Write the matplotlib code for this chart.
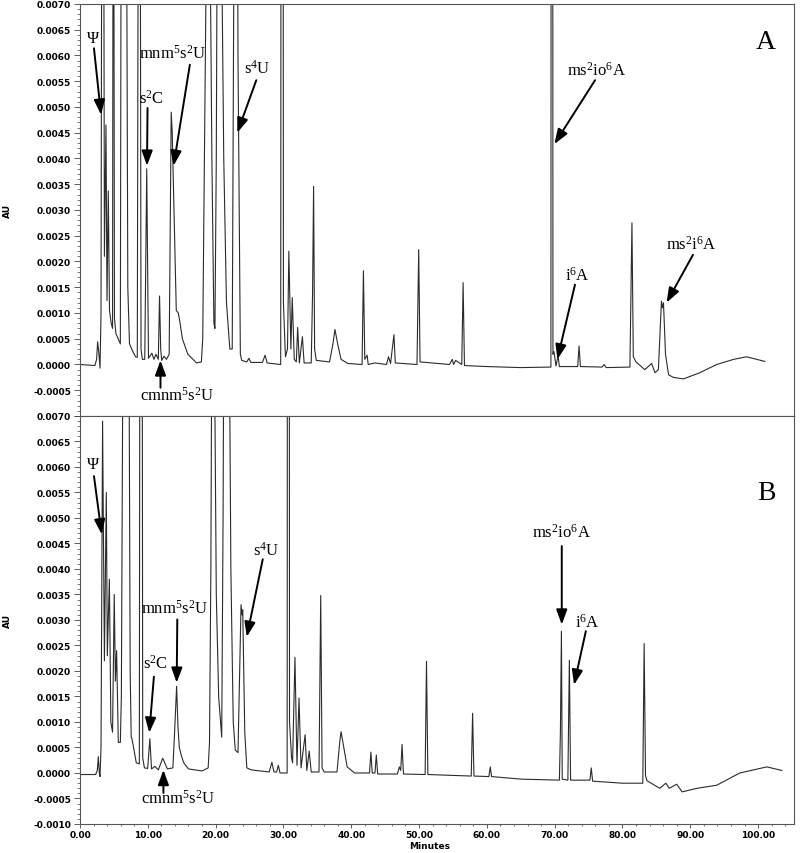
import matplotlib
matplotlib.use("Agg")
import numpy as np
import matplotlib.pyplot as plt
from matplotlib.ticker import MultipleLocator, FuncFormatter

# chromatogram traces: (minutes, AU)
trace_a = [
    (0.0, 0.0), (2.2, -0.00002), (2.45, 0.0001), (2.6, 0.00044), (2.8, 0.0002), (2.95, -0.00007),
    (3.1, 0.001), (3.35, 0.02), (3.6, 0.0021), (3.83, 0.00465), (3.98, 0.00124), (4.17, 0.00337),
    (4.35, 0.00105), (4.6, 0.0008), (4.8, 0.0007), (4.92, 0.015), (5.08, 0.0009), (5.3, 0.0006),
    (5.95, 0.0004), (6.35, 0.03), (7.05, 0.0015), (7.3, 0.0004), (7.8, 0.00025), (8.2, 0.00015),
    (8.45, 0.00014), (8.75, 0.02), (9.0, 0.0003), (9.2, 0.0001), (9.55, 0.0001), (9.84, 0.0038),
    (10.1, 0.00012), (10.6, 0.00022), (10.9, 0.0001), (11.2, 0.0002), (11.55, 0.0001), (11.73, 0.00133),
    (11.9, 0.0003), (12.05, 0.00008), (12.4, 0.00016), (12.75, 0.0001), (13.15, 0.0002), (13.45, 0.0049),
    (13.6, 0.0045), (14.2, 0.00105), (14.5, 0.001), (14.7, 0.00085), (15.1, 0.0005), (15.9, 0.0002),
    (17.2, 0.00003), (17.9, 0.00005), (18.1, 0.0005), (18.35, 0.004), (18.7, 0.009), (18.95, 0.012),
    (19.2, 0.008), (19.45, 0.004), (19.75, 0.0008), (19.9, 0.0007), (20.1, 0.004), (20.3, 0.011),
    (20.6, 0.013), (20.9, 0.008), (21.2, 0.004), (21.6, 0.0012), (22.1, 0.0003), (22.45, 0.0003),
    (22.7, 0.008), (23.0, 0.02), (23.3, 0.006), (23.65, 0.0002), (23.85, 0.00008), (24.6, 0.00005),
    (24.9, 0.00012), (25.2, 0.00004), (26.9, 0.00004), (27.3, 0.00018), (27.6, 0.00003), (29.6, 0.0),
    (29.8, 0.05), (30.0, 0.0012), (30.3, 0.00015), (30.6, 0.0003), (30.8, 0.0022), (31.1, 0.0003),
    (31.3, 0.0013), (31.6, 0.0001), (31.9, 0.00005), (32.1, 0.00072), (32.35, 0.00003), (32.8, 0.00054),
    (33.05, 0.00003), (34.1, 0.00003), (34.3, 0.0014), (34.45, 0.00346), (34.6, 0.0003), (34.85, 0.00008),
    (36.8, 0.00005), (37.3, 0.0004), (37.6, 0.00068), (38.0, 0.0004), (38.5, 0.0001), (39.5, 0.00002),
    (41.6, 0.0), (41.8, 0.00182), (42.0, 0.0001), (42.35, 0.00018), (42.5, 0.0), (43.5, 0.00003),
    (45.2, 0.0), (45.5, 0.00015), (45.8, 0.00002), (46.3, 0.00058), (46.5, 0.00003),
    (49.7, 0.0), (49.95, 0.00223), (50.15, 0.00005),
    (54.5, 0.0), (54.9, 0.0001), (55.1, 0.0), (55.4, 0.00008), (56.3, 0.0), (56.5, 0.00159), (56.7, -0.00002),
    (60.0, -0.00004), (65.0, -0.00006), (69.45, -0.00005), (69.6, 0.05), (69.75, 0.0002), (69.9, 0.00025),
    (70.2, -0.00003), (70.5, 0.00017), (70.7, -0.00004), (73.4, -0.00004), (73.6, 0.00036), (73.8, -0.00004),
    (77.0, -0.00005), (77.3, 0.0), (77.6, -0.00006), (81.1, -0.00005), (81.4, 0.00275), (81.6, 0.00015),
    (82.0, 0.00005), (83.3, -0.0001), (84.3, 0.00002), (84.8, -0.00016), (85.3, -0.0001), (85.75, 0.00123),
    (85.9, 0.0011), (86.05, 0.0012), (86.35, 0.0002), (86.8, -0.0002), (87.5, -0.00025), (89.0, -0.00028),
    (91.4, -0.00016), (93.9, 0.0), (96.4, 0.0001), (98.3, 0.00015), (101.0, 0.00006),
]

trace_b = [
    (0.0, -0.00003), (2.3, -0.00003), (2.55, 0.00005), (2.7, 0.00032), (2.85, 0.0), (2.95, -0.00007),
    (3.1, 0.0005), (3.33, 0.0069), (3.6, 0.0022), (3.88, 0.0055), (4.03, 0.0023), (4.33, 0.0038),
    (4.55, 0.001), (4.8, 0.0008), (5.05, 0.0035), (5.22, 0.0018), (5.4, 0.0024), (5.65, 0.0006),
    (5.95, 0.0006), (6.1, 0.0015), (6.35, 0.009), (6.8, 0.015), (7.25, 0.0075), (7.4, 0.002),
    (7.55, 0.0007), (7.65, 0.00068), (7.9, 0.0005), (8.3, 0.0002), (8.75, 0.00018), (9.0, 0.03),
    (9.25, 0.0003), (9.5, 0.0001), (9.98, 0.00009), (10.3, 0.00067), (10.55, 0.00008), (11.05, 0.00013),
    (11.55, 0.00006), (12.2, 0.00029), (12.5, 0.0002), (12.88, 0.00008), (13.7, 0.0001), (13.95, 0.0008),
    (14.25, 0.0017), (14.45, 0.0009), (14.65, 0.0005), (14.95, 0.00034), (15.3, 0.0002), (16.0, 0.00008),
    (18.0, 0.00004), (18.9, 0.0001), (19.1, 0.0006), (19.3, 0.004), (19.45, 0.009), (19.65, 0.012),
    (19.85, 0.008), (20.1, 0.0035), (20.45, 0.0015), (20.9, 0.0007), (21.1, 0.005), (21.3, 0.012),
    (21.7, 0.014), (22.0, 0.009), (22.25, 0.004), (22.6, 0.001), (22.9, 0.00045), (23.3, 0.0004),
    (23.75, 0.0033), (23.9, 0.0031), (24.0, 0.0032), (24.3, 0.0008), (24.6, 0.0001), (25.3, 0.00006),
    (27.9, 0.00002), (28.3, 0.00021), (28.6, 0.00002), (29.0, 0.00002), (29.25, 0.00015), (29.5, 0.0),
    (30.55, 0.0), (30.72, 0.05), (30.9, 0.001), (31.2, 0.0003), (31.35, 0.0002), (31.7, 0.00227),
    (32.0, 0.00015), (32.3, 0.00147), (32.6, 0.0001), (33.2, 0.00075), (33.45, 0.00005), (33.8, 0.00043),
    (34.1, 0.00002), (35.25, 0.00002), (35.5, 0.00348), (35.7, 0.0001), (36.0, 0.00002),
    (37.9, 0.00002), (38.3, 0.0006), (38.5, 0.00081), (38.9, 0.0005), (39.4, 0.00012), (40.5, 0.0),
    (42.7, 0.0), (42.9, 0.00041), (43.1, 0.0), (43.5, 0.0), (43.7, 0.00035), (43.9, -0.00002),
    (46.8, -0.00002), (47.1, 0.00012), (47.3, 0.00005), (47.5, 0.00056), (47.7, -0.00002),
    (50.9, -0.00003), (51.1, 0.00219), (51.3, -0.00003),
    (55.5, -0.00005), (57.7, -0.00006), (57.9, 0.00117), (58.1, -0.00006),
    (60.3, -0.00007), (60.5, 0.00012), (60.7, -0.00007), (65.0, -0.00012), (70.7, -0.00014),
    (70.85, 0.0008), (71.0, 0.00278), (71.12, -0.00012), (71.95, -0.00014), (72.17, 0.00221), (72.35, -0.00014),
    (75.2, -0.00014), (75.4, 0.0001), (75.6, -0.00016), (80.0, -0.0002), (83.0, -0.0002),
    (83.2, 0.00254), (83.4, -0.00005), (83.6, -0.00015), (85.5, -0.0003), (86.4, -0.0002), (86.9, -0.0003),
    (88.0, -0.00022), (88.8, -0.00037), (91.0, -0.0003), (93.9, -0.00024), (97.3, 0.0),
    (101.3, 0.00012), (103.5, 0.00005),
]

panel_names = ["A", "B"]
peak_names = {
    "psi": "\u03a8",
    "s2C": "s$^2$C",
    "mnm": "mnm$^5$s$^2$U",
    "cmnm": "cmnm$^5$s$^2$U",
    "s4U": "s$^4$U",
    "io6": "ms$^2$io$^6$A",
    "i6A": "i$^6$A",
    "ms2i6A": "ms$^2$i$^6$A",
}

# label centre, arrow tail, arrow tip (data coords of each panel)
layout_a = [
    ("psi", (1.92, 0.00634), (2.06, 0.00614), (3.1, 0.00485)),
    ("s2C", (10.6, 0.00517), (9.96, 0.00498), (9.88, 0.00386)),
    ("mnm", (13.7, 0.00605), (16.2, 0.00582), (13.8, 0.00386)),
    ("s4U", (26.1, 0.00576), (26.0, 0.00552), (23.2, 0.0045)),
    ("cmnm", (14.3, -0.00058), (11.87, -0.00045), (11.87, 0.00008)),
    ("io6", (76.2, 0.00572), (75.96, 0.00552), (69.96, 0.00428)),
    ("i6A", (73.3, 0.00175), (73.0, 0.00155), (70.4, 0.0001)),
    ("ms2i6A", (90.2, 0.00234), (90.4, 0.00213), (86.5, 0.0012)),
]
layout_b = [
    ("psi", (1.96, 0.00605), (2.06, 0.00582), (3.2, 0.00468)),
    ("s2C", (11.2, 0.00216), (10.9, 0.00189), (10.22, 0.00079)),
    ("mnm", (14.0, 0.00324), (14.35, 0.00301), (14.26, 0.00177)),
    ("cmnm", (14.5, -0.00049), (12.3, -0.00039), (12.3, 0.00006)),
    ("s4U", (27.5, 0.00438), (26.95, 0.00419), (24.6, 0.00267)),
    ("io6", (71.05, 0.00474), (71.05, 0.00445), (71.05, 0.00291)),
    ("i6A", (74.8, 0.00297), (74.6, 0.00278), (72.86, 0.00173)),
]

plt.rcParams["font.family"] = "DejaVu Sans"
plt.rcParams["font.weight"] = "bold"
plt.rcParams["mathtext.default"] = "regular"

SERIF = "Liberation Serif"


def au_label(v, pos, hide_bottom=False):
    if abs(v) < 1e-9:
        v = 0.0
    if hide_bottom and v < -0.00095:
        return ""
    return f"{v:.4f}"


def style_axes(ax, show_x, hide_bottom):
    ax.set_xlim(0, 105.3)
    ax.set_ylim(-0.001, 0.007)
    ax.yaxis.set_major_locator(MultipleLocator(0.0005))
    ax.yaxis.set_minor_locator(MultipleLocator(0.0001))
    ax.yaxis.set_major_formatter(FuncFormatter(lambda v, p: au_label(v, p, hide_bottom)))
    ax.xaxis.set_major_locator(MultipleLocator(10))
    ax.xaxis.set_minor_locator(MultipleLocator(2))
    ax.xaxis.set_major_formatter(FuncFormatter(lambda v, p: f"{v:.2f}"))
    ax.tick_params(axis="y", which="major", direction="out", length=4.5, width=0.6,
                   color="#444444", labelsize=6.5, pad=2)
    ax.tick_params(axis="x", which="major", direction="out", length=3.0, width=0.6,
                   color="#444444", labelsize=6.5, pad=1)
    ax.tick_params(axis="y", which="minor", direction="out", length=2.2, width=0.5,
                   color="#444444")
    ax.tick_params(axis="x", which="minor", direction="out", length=1.6, width=0.5,
                   color="#444444")
    if not show_x:
        ax.tick_params(axis="x", which="both", bottom=False, labelbottom=False)
    for s in ax.spines.values():
        s.set_linewidth(0.8)
        s.set_color("#555555")
    ax.set_ylabel("AU", fontsize=6.5, fontweight="bold")
    ax.yaxis.set_label_coords(-0.095, 0.5)


def annotate_peaks(ax, layout):
    for key, txt_xy, tail, tip in layout:
        ax.text(txt_xy[0], txt_xy[1], peak_names[key], family=SERIF, fontweight="normal",
                fontsize=12, ha="center", va="center")
        ax.annotate("", xy=tip, xytext=tail,
                    arrowprops=dict(arrowstyle="-|>,head_length=0.9,head_width=0.33",
                                    color="black", lw=1.4, shrinkA=0, shrinkB=0))


fig = plt.figure(figsize=(8, 8.54), dpi=100)
ax_a = fig.add_axes([0.1, 0.51171, 0.8925, 0.48244])
ax_b = fig.add_axes([0.1, 0.03396, 0.8925, 0.47775])

for ax, trace, layout, name, show_x, label_y in [
    (ax_a, trace_a, layout_a, panel_names[0], False, 0.00628),
    (ax_b, trace_b, layout_b, panel_names[1], True, 0.0055),
]:
    t, au = np.array(trace).T
    ax.plot(t, au, color="#2b2b2b", lw=0.8)
    style_axes(ax, show_x, hide_bottom=not show_x)
    annotate_peaks(ax, layout)
    ax.text(101.2, label_y, name, family=SERIF, fontweight="normal", fontsize=20,
            ha="center", va="center")

ax_b.set_xlabel("Minutes", fontsize=6.5, fontweight="bold")
ax_b.xaxis.set_label_coords(0.49, -0.042)

fig.savefig("out.png", dpi=100)
